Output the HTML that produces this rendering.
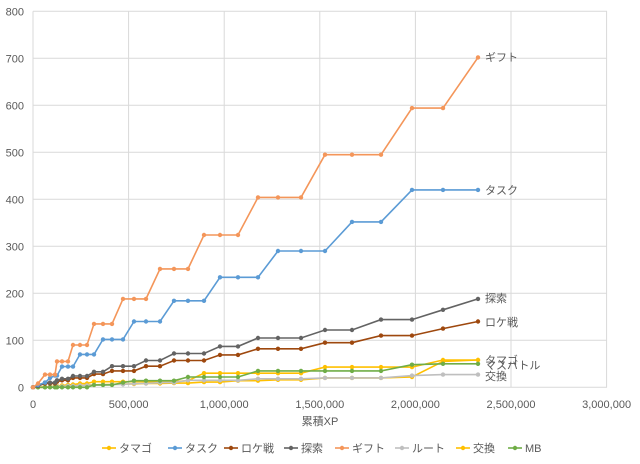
<!DOCTYPE html>
<html><head><meta charset="utf-8"><style>
body{margin:0;background:#fff;}
svg{display:block;font-family:"Liberation Sans","Noto Sans CJK JP",sans-serif;}
</style></head><body>
<svg id="c" width="640" height="464" viewBox="0 0 640 464" xmlns="http://www.w3.org/2000/svg"></svg>
<script>
var s=document.getElementById('c'),h='';
var y0=387.3,k=0.47;
function Y(v){return y0-v*k;}
// grid
for(var i=0;i<=8;i++){var y=Y(i*100);h+='<line x1="33" x2="607" y1="'+y+'" y2="'+y+'" stroke="#d9d9d9" stroke-width="1"/>';
h+='<text x="24" y="'+(y+4)+'" font-size="11" fill="#595959" text-anchor="end">'+(i*100)+'</text>';}
var xl=['0','500,000','1,000,000','1,500,000','2,000,000','2,500,000','3,000,000'];
for(var i=0;i<=6;i++){var x=33+i*95.6;h+='<line x1="'+x+'" x2="'+x+'" y1="'+Y(800)+'" y2="'+y0+'" stroke="#d9d9d9" stroke-width="1"/>';
h+='<text x="'+x+'" y="408" font-size="11" fill="#595959" text-anchor="middle">'+xl[i]+'</text>';}
h+='<text x="320" y="425" font-size="11" fill="#595959" text-anchor="middle">累積XP</text>';
var X=[33,38,45,50,55,57,62,68,73,80,87,94,103,112,123,134,146,160,174,188,204,220,238,258,278,301,325,352,381,412,443,478];
var S=[
['タマゴ','#ffc000',[0,0,0,1,2,2,3,3,4,4,5,5,6,6,7,7,8,8,9,9,11,11,14,14,16,16,20,20,20,22,55,58]],
['交換','#ffc000',[0,0,1,1,2,3,4,5,6,8,8,12,12,12,12,12,12,12,12,14,30,30,30,30,30,30,43,43,43,43,58,58]],
['ルート','#bfbfbf',[0,0,0,1,1,2,2,3,3,4,4,5,5,6,6,8,8,10,10,15,15,15,15,18,18,18,20,20,20,25,27,27]],
['MB','#70ad47',[0,0,0,0,0,0,0,0,0,0,0,5,5,5,10,14,14,14,14,22,22,22,22,35,35,35,35,35,35,48,50,50]],
['ロケ戦','#9e480e',[0,3,8,8,8,12,15,15,20,20,20,28,28,35,35,35,45,45,57,57,57,69,69,82,82,82,95,95,110,110,125,140]],
['探索','#636363',[0,3,10,10,10,15,18,18,24,24,24,33,33,45,45,45,57,57,72,72,72,87,87,105,105,105,122,122,144,144,165,188]],
['タスク','#5b9bd5',[0,5,10,20,25,25,44,44,44,70,70,70,102,102,102,140,140,140,184,184,184,234,234,234,290,290,290,352,352,420,420,420]],
['ギフト','#f4965a',[0,8,27,27,27,55,55,55,90,90,90,135,135,135,188,188,188,252,252,252,324,324,324,404,404,404,495,495,495,594,594,702]]
];
S.forEach(function(a){var p=a[2].map(function(v,i){return X[i]+','+Y(v).toFixed(1);}).join(' ');
h+='<polyline points="'+p+'" fill="none" stroke="'+a[1]+'" stroke-width="1.6"/>';
a[2].forEach(function(v,i){h+='<circle cx="'+X[i]+'" cy="'+Y(v).toFixed(1)+'" r="2.2" fill="'+a[1]+'"/>';});});
var L=[['ギフト',61],['タスク',194],['探索',302],['ロケ戦',326],['タマゴ',364],['マスバトル',369],['交換',380]];
L.forEach(function(l){h+='<text x="485" y="'+l[1]+'" font-size="11" fill="#595959">'+l[0]+'</text>';});
var G=[['タマゴ',102,'#ffc000'],['タスク',168,'#5b9bd5'],['ロケ戦',224,'#9e480e'],['探索',284,'#636363'],['ギフト',335,'#f4965a'],['ルート',395,'#bfbfbf'],['交換',456,'#ffc000'],['MB',508,'#70ad47']];
G.forEach(function(g){h+='<line x1="'+g[1]+'" x2="'+(g[1]+14)+'" y1="448" y2="448" stroke="'+g[2]+'" stroke-width="1.6"/><circle cx="'+(g[1]+7)+'" cy="448" r="2.2" fill="'+g[2]+'"/>';
h+='<text x="'+(g[1]+17)+'" y="452" font-size="11" fill="#595959">'+g[0]+'</text>';});
s.innerHTML=h;
</script>
</body></html>
